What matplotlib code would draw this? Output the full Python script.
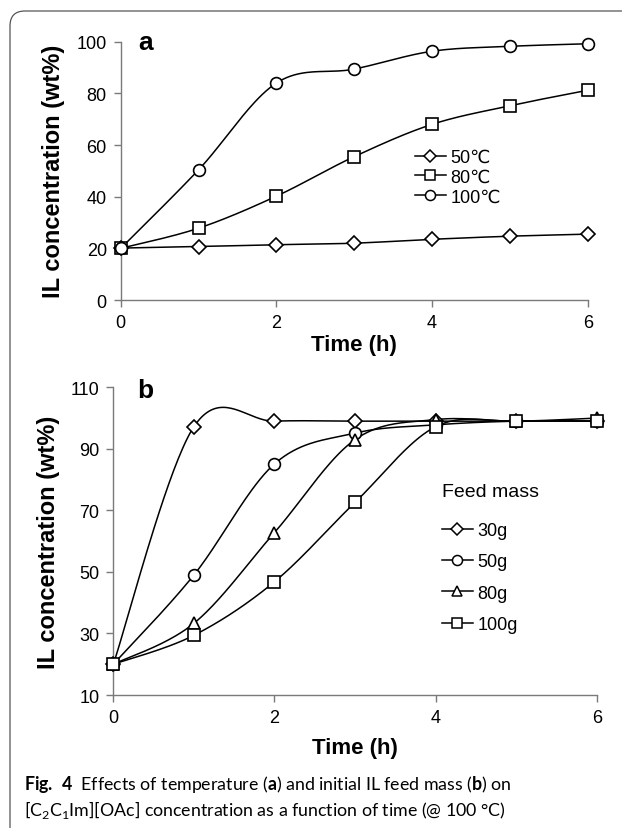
# -*- coding: utf-8 -*-
import numpy as np
import matplotlib.pyplot as plt
from matplotlib.patches import FancyBboxPatch

# datos
tiempo = [0, 1, 2, 3, 4, 5, 6]
a_50 = [20.1, 20.7, 21.4, 22.0, 23.5, 24.7, 25.5]
a_80 = [20.0, 27.8, 40.2, 55.5, 68.0, 75.2, 81.2]
a_100 = [20.0, 50.4, 84.0, 89.4, 96.3, 98.2, 99.2]
etiquetas_a = ['50\u2103', '80\u2103', '100\u2103']

b_30 = [20.0, 97.2, 99.0, 99.0, 99.0, 99.0, 99.0]
b_50 = [20.0, 49.0, 85.1, 95.1, 97.8, 99.0, 99.0]
b_80 = [20.0, 33.3, 62.8, 93.0, 99.5, 99.0, 100.0]
b_100 = [20.0, 29.4, 46.8, 72.6, 97.2, 99.0, 99.0]
etiquetas_b = ['30g', '50g', '80g', '100g']

plt.rcParams['font.family'] = ['Liberation Sans', 'DejaVu Sans']
plt.rcParams['mathtext.fontset'] = 'custom'
plt.rcParams['mathtext.rm'] = 'Lato'
plt.rcParams['mathtext.bf'] = 'Lato:bold'

gris = '#7a7a7a'


def suave(x, y, n=40):
    # curva suavizada tipo Excel (Catmull-Rom en Bezier)
    x = np.asarray(x, float)
    y = np.asarray(y, float)
    sx, sy = [], []
    s = np.linspace(0, 1, n)
    for i in range(len(x) - 1):
        i0 = max(i - 1, 0)
        i3 = min(i + 2, len(x) - 1)
        c1x = x[i] + (x[i + 1] - x[i0]) / 6
        c1y = y[i] + (y[i + 1] - y[i0]) / 6
        c2x = x[i + 1] - (x[i3] - x[i]) / 6
        c2y = y[i + 1] - (y[i3] - y[i]) / 6
        bx = (1 - s) ** 3 * x[i] + 3 * (1 - s) ** 2 * s * c1x + 3 * (1 - s) * s ** 2 * c2x + s ** 3 * x[i + 1]
        by = (1 - s) ** 3 * y[i] + 3 * (1 - s) ** 2 * s * c1y + 3 * (1 - s) * s ** 2 * c2y + s ** 3 * y[i + 1]
        sx.extend(bx)
        sy.extend(by)
    return sx, sy


def serie(ax, y, marca, etiqueta, ms=8):
    cx, cy = suave(tiempo, y)
    ax.plot(cx, cy, color='black', lw=1.1, zorder=2, clip_on=False)
    ax.plot(tiempo, y, ls='none', marker=marca, ms=ms, mfc='white', mec='black', mew=1.2, zorder=3, clip_on=False)
    # entrada de leyenda
    ax.plot([], [], color='black', lw=1.1, marker=marca, ms=ms * 0.85, mfc='white', mec='black', mew=1.1, label=etiqueta)


def estilo(ax, pad_x):
    for lado in ['top', 'right']:
        ax.spines[lado].set_visible(False)
    for lado in ['left', 'bottom']:
        ax.spines[lado].set_color(gris)
        ax.spines[lado].set_linewidth(1.0)
    ax.tick_params(direction='out', length=5, width=1.0, color=gris, labelsize=13, pad=5)
    ax.set_xlim(0, 6)
    ax.set_xticks([0, 2, 4, 6])
    ax.set_xlabel('Time (h)', fontsize=16, fontweight='bold', labelpad=pad_x)
    ax.set_ylabel('IL concentration (wt%)', fontsize=17, fontweight='bold', labelpad=8)


fig = plt.figure(figsize=(6.22, 8.29), dpi=100)

marco = FancyBboxPatch((0.10, -0.6), 6.8, 8.17 + 0.6, boxstyle='round,pad=0,rounding_size=0.15',
                       transform=fig.dpi_scale_trans, fc='none', ec='#555555', lw=0.9)
fig.add_artist(marco)

# panel a
ax1 = fig.add_axes([0.1941, 0.6369, 0.7508, 0.3116])
serie(ax1, a_50, 'D', etiquetas_a[0], ms=7)
serie(ax1, a_80, 's', etiquetas_a[1])
serie(ax1, a_100, 'o', etiquetas_a[2], ms=8.5)
ax1.set_ylim(0, 100)
ax1.set_yticks(range(0, 101, 20))
estilo(ax1, 2)
ax1.text(0.037, 1.0, 'a', transform=ax1.transAxes, fontsize=19, fontweight='bold', va='center')
ax1.legend(loc='upper left', bbox_to_anchor=(0.63, 0.585), frameon=False, fontsize=13,
           handlelength=1.7, handletextpad=0.25, labelspacing=0.15, borderpad=0, borderaxespad=0)

# panel b
ax2 = fig.add_axes([0.1822, 0.1604, 0.7772, 0.3712])
serie(ax2, b_30, 'D', etiquetas_b[0], ms=7)
serie(ax2, b_50, 'o', etiquetas_b[1], ms=8.5)
serie(ax2, b_80, '^', etiquetas_b[2], ms=8.5)
serie(ax2, b_100, 's', etiquetas_b[3])
ax2.set_ylim(10, 110)
ax2.set_yticks(range(10, 111, 20))
estilo(ax2, 8)
ax2.text(0.05, 0.99, 'b', transform=ax2.transAxes, fontsize=19, fontweight='bold', va='center')
leg = ax2.legend(loc='upper left', bbox_to_anchor=(0.68, 0.69), frameon=False, fontsize=13,
                 title='Feed mass', title_fontsize=14, alignment='left',
                 handlelength=1.7, handletextpad=0.25, labelspacing=0.8, borderpad=0, borderaxespad=0)
leg._legend_box.sep = 16

# pie de figura
fig.text(24 / 622, 1 - 785 / 829, r'$\mathbf{Fig.\ 4}$  Effects of temperature ($\mathbf{a}$) and initial IL feed mass ($\mathbf{b}$) on',
         fontsize=12.8, va='center', ha='left', family='Lato')
fig.text(24 / 622, 1 - 810 / 829, r'[C$_2$C$_1$Im][OAc] concentration as a function of time (@ 100 °C)',
         fontsize=12.8, va='center', ha='left', family='Lato')

fig.savefig('out.png', dpi=100)
